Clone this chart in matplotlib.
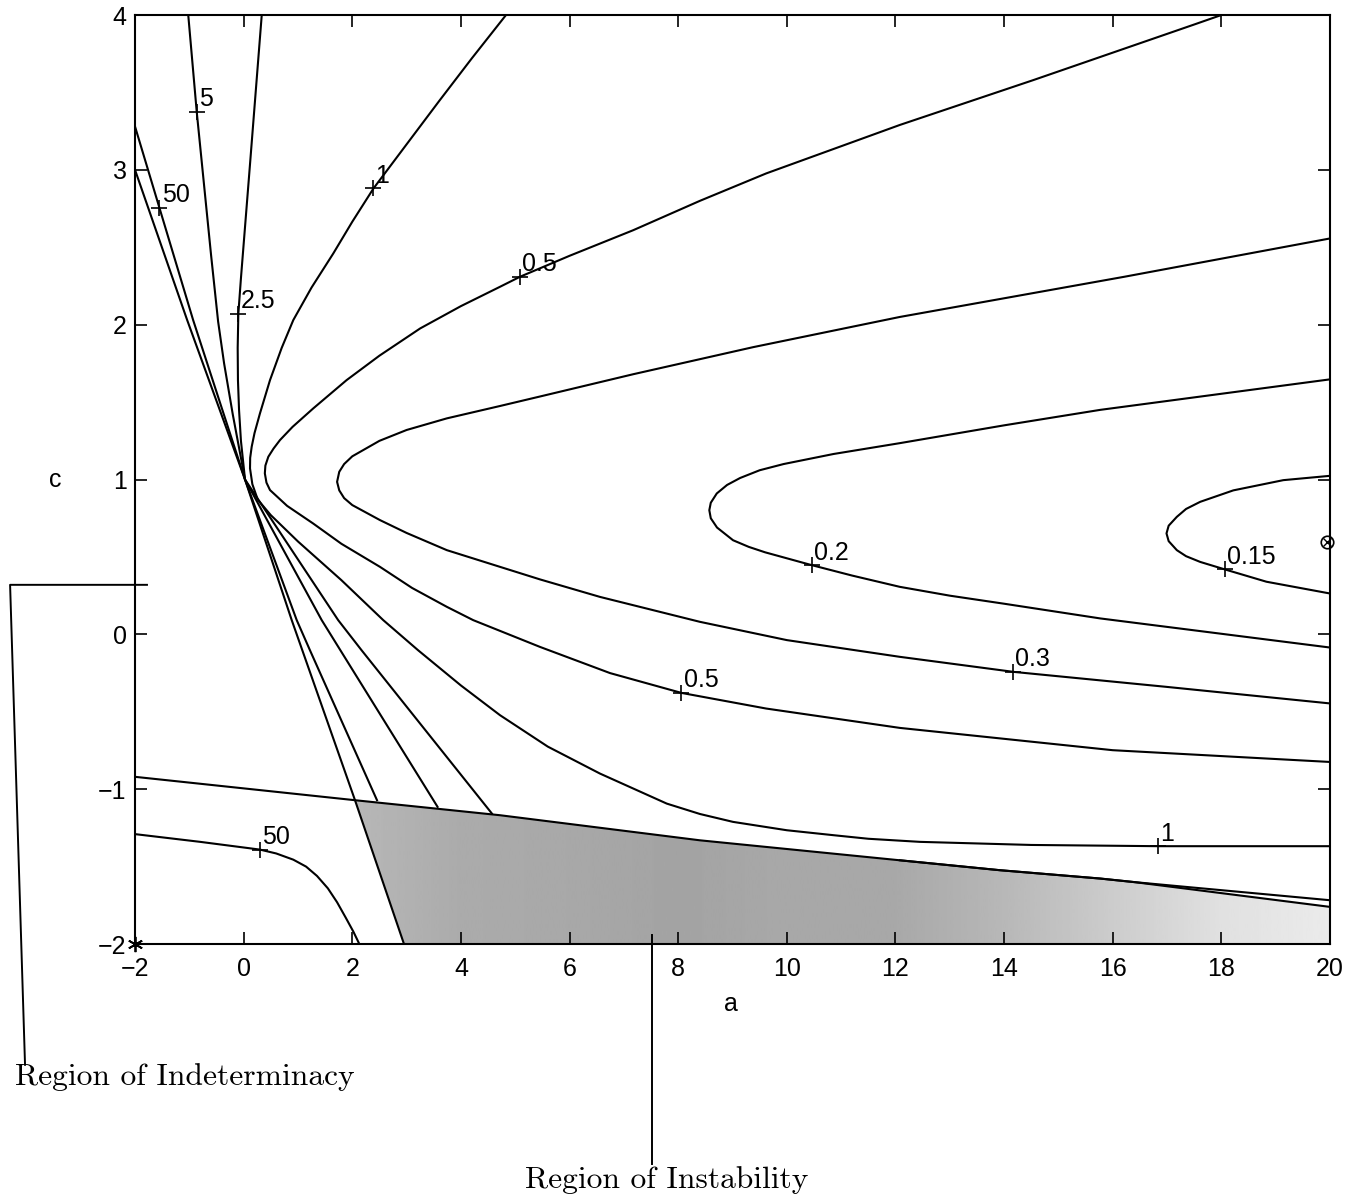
import numpy as np
import matplotlib.pyplot as plt
from matplotlib.patches import Polygon

# Contour lines, as (a, c) points
a_015 = [20.0, 19.14, 18.22, 17.61, 17.35, 17.18, 17.03, 16.99, 17.03, 17.18, 17.35, 17.61, 18.07, 18.83, 20.0]
c_015 = [1.024, 0.996, 0.93, 0.856, 0.81, 0.759, 0.702, 0.652, 0.602, 0.544, 0.505, 0.468, 0.419, 0.34, 0.264]

a_02 = [20.0, 15.77, 14.0, 12.08, 10.86, 9.94, 9.5, 9.14, 8.9, 8.71, 8.60, 8.573, 8.60, 8.715, 9.01, 9.3, 9.6,
        10.46, 11.2, 12.08, 13.0, 14.0, 15.77, 20.0]
c_02 = [1.647, 1.45, 1.35, 1.235, 1.165, 1.10, 1.06, 1.01, 0.965, 0.91, 0.85, 0.802, 0.75, 0.69, 0.608, 0.565, 0.53,
        0.447, 0.38, 0.307, 0.25, 0.198, 0.103, -0.085]

a_03 = [20.0, 16.22, 12.08, 9.38, 7.17, 5.5, 4.72, 3.74, 3.0, 2.5, 2.0, 1.85, 1.76, 1.72, 1.76, 1.85, 2.0, 2.51, 3.0,
        3.74, 4.72, 5.456, 6.56, 8.40, 10.0, 12.08, 14.17, 16.99, 20.0]
c_03 = [2.557, 2.31, 2.05, 1.855, 1.68, 1.54, 1.475, 1.395, 1.32, 1.25, 1.15, 1.10, 1.05, 0.985, 0.93, 0.88, 0.835,
        0.738, 0.655, 0.544, 0.436, 0.355, 0.242, 0.081, -0.037, -0.145, -0.242, -0.339, -0.446]

a_05 = [18.0, 17.51, 14.54, 12.08, 9.62, 8.4, 7.17, 6.0, 5.09, 4.72, 4.0, 3.25, 2.5, 1.895, 1.28, 0.9, 0.669, 0.55,
        0.454, 0.40, 0.39, 0.42, 0.485, 0.8, 1.28, 1.8, 2.51, 3.1, 3.74, 4.226, 5.456, 6.745, 8.06, 9.62, 12.08, 16.0, 20.0]
c_05 = [4.0, 3.94, 3.58, 3.29, 2.977, 2.80, 2.61, 2.445, 2.31, 2.245, 2.12, 1.976, 1.80, 1.642, 1.459, 1.34, 1.255, 1.20,
        1.147, 1.09, 1.04, 0.98, 0.932, 0.83, 0.716, 0.585, 0.436, 0.30, 0.178, 0.092, -0.081, -0.25, -0.378, -0.479,
        -0.604, -0.748, -0.824]

a_1 = [4.83, 4.2, 3.6, 3.0, 2.39, 2.0, 1.65, 1.25, 0.914, 0.7, 0.485, 0.30, 0.2, 0.148, 0.12, 0.117, 0.16, 0.26, 0.5,
       1.0, 1.8, 2.57, 3.21, 4.0, 4.72, 5.6, 6.56, 7.79, 8.4, 9.01, 10.0, 10.86, 11.5, 12.45, 14.5, 16.84, 20.0]
c_1 = [4.0, 3.72, 3.445, 3.165, 2.88, 2.665, 2.46, 2.24, 2.03, 1.85, 1.642, 1.427, 1.30, 1.212, 1.14, 1.072, 0.97, 0.87,
       0.77, 0.60, 0.35, 0.092, -0.102, -0.33, -0.522, -0.725, -0.899, -1.093, -1.16, -1.211, -1.265, -1.297, -1.32,
       -1.34, -1.36, -1.368, -1.368]

a_25 = [0.333, 0.12, -0.05, -0.098, -0.11, -0.105, -0.085, -0.05, 0.025, 1.74, 2.17, 4.57]
c_25 = [4.0, 3.05, 2.3, 2.07, 1.85, 1.642, 1.45, 1.25, 1.0, 0.092, -0.102, -1.157]

a_5 = [-1.02, -0.864, -0.60, -0.47, -0.36, -0.2, 0.025, 1.437, 1.78, 3.57]
c_5 = [4.0, 3.375, 2.45, 2.02, 1.75, 1.42, 1.0, 0.092, -0.102, -1.114]

a_10 = [-2.0, -1.04, 0.025, 0.977, 1.22, 2.455]
c_10 = [3.0, 2.03, 1.0, 0.092, -0.102, -1.071]

a_50 = [-2.0, -1.55, -0.93, 0.025, 0.885, 2.05, 2.952]
c_50 = [3.28, 2.754, 2.03, 1.0, 0.092, -1.071, -2.0]

a_50b = [-2.0, -0.80, 0.30, 0.60, 0.914, 1.15, 1.35, 1.55, 1.72, 1.88, 2.02, 2.13]
c_50b = [-1.29, -1.34, -1.39, -1.415, -1.455, -1.50, -1.56, -1.64, -1.73, -1.83, -1.92, -2.0]

# upper edge of the instability region, and the contour that runs along it
a_bnd = [-2.0, 2.05, 4.72, 8.40, 12.08, 13.92, 15.77, 16.4, 20.0]
c_bnd = [-0.92, -1.071, -1.168, -1.33, -1.459, -1.523, -1.577, -1.60, -1.760]
a_bnd2 = [12.08, 13.92, 15.77, 16.4, 20.0]
c_bnd2 = [-1.459, -1.523, -1.577, -1.60, -1.717]

# contour labels
lab_a = [-0.864, -1.55, 2.39, -0.098, 5.09, 10.46, 18.07, 8.06, 14.17, 16.84, 0.30]
lab_c = [3.375, 2.754, 2.88, 2.07, 2.31, 0.447, 0.419, -0.378, -0.242, -1.368, -1.39]
lab_t = ['5', '50', '1', '2.5', '0.5', '0.2', '0.15', '0.5', '0.3', '1', '50']

# special points
star_a, star_c = -2.0, -2.0
opt_a, opt_c = 19.95, 0.595

# grey level of the stippled shading along a
shade_a = [2.0, 4.0, 6.0, 8.0, 10.0, 12.0, 14.0, 16.0, 18.0, 20.0]
shade_g = [0.72, 0.67, 0.66, 0.64, 0.66, 0.66, 0.72, 0.80, 0.88, 0.92]

plt.rcParams['font.family'] = 'Liberation Sans'

fig = plt.figure(figsize=(13.57, 12.02), dpi=100)
ax = fig.add_axes([0.0995, 0.2146, 0.8806, 0.7729])

lw = 1.5
curves = [(a_015, c_015), (a_02, c_02), (a_03, c_03), (a_05, c_05), (a_1, c_1),
          (a_25, c_25), (a_5, c_5), (a_10, c_10), (a_50, c_50), (a_50b, c_50b),
          (a_bnd, c_bnd), (a_bnd2, c_bnd2)]
for xa, yc in curves:
    ax.plot(xa, yc, color='k', lw=lw, solid_joinstyle='round')

# instability region, shaded grey
reg_a = a_bnd[1:] + [20.0, a_50[-1]]
reg_c = c_bnd[1:] + [-2.0, -2.0]
patch = Polygon(np.column_stack([reg_a, reg_c]), closed=True, fc='none', ec='none')
ax.add_patch(patch)
grad = np.interp(np.linspace(-2, 20, 600), shade_a, shade_g)[None, :]
im = ax.imshow(grad, extent=(-2, 20, -2, 4), cmap='gray', vmin=0, vmax=1,
               aspect='auto', origin='lower', zorder=0, interpolation='bilinear')
im.set_clip_path(patch)

for x, y, t in zip(lab_a, lab_c, lab_t):
    ax.plot(x, y, marker='+', ms=12, mew=1.2, color='k')
    ax.annotate(t, (x, y), xytext=(1.5, 4), textcoords='offset points',
                ha='left', va='baseline', fontsize=18)

ax.plot(star_a, star_c, marker=(6, 2, 0), ms=11, mew=1.3, color='k', clip_on=False)
ax.plot(opt_a, opt_c, marker='o', ms=9, mfc='none', mec='k', mew=1.2, clip_on=False)
ax.plot(opt_a, opt_c, marker='x', ms=6, mec='k', mew=1.0, clip_on=False)

ax.set_xlim(-2, 20)
ax.set_ylim(-2, 4)
ax.set_xticks(range(-2, 21, 2))
ax.set_yticks(range(-2, 5))
ax.tick_params(direction='in', top=True, right=True, length=8.5, width=1.2, labelsize=18)
ax.tick_params(axis='x', pad=9)
ax.tick_params(axis='y', pad=6)
for s in ax.spines.values():
    s.set_linewidth(1.5)

ax.set_xlabel('a', fontsize=18)
ax.xaxis.label.set_va('center')
ax.xaxis.set_label_coords(0.4987, -0.0646)
ax.set_ylabel('c', fontsize=18, rotation=0)
ax.yaxis.label.set_va('center')
ax.yaxis.label.set_ha('center')
ax.yaxis.set_label_coords(-0.067, 0.4995)

# pointers to the two regions, below the plot
ind_a = [-1.78, -4.30, -4.025]
ind_c = [0.32, 0.32, -2.78]
ins_a = [7.51, 7.51]
ins_c = [-1.943, -3.42]
ax.plot(ind_a, ind_c, color='k', lw=1.4, clip_on=False)
ax.plot(ins_a, ins_c, color='k', lw=1.4, clip_on=False)
ax.text(-4.21, -2.912, 'Region of Indeterminacy', family='cmr10', fontsize=22.7,
        ha='left', va='baseline')
ax.text(5.18, -3.578, 'Region of Instability', family='cmr10', fontsize=22.7,
        ha='left', va='baseline')

fig.savefig('out.png', dpi=100)
